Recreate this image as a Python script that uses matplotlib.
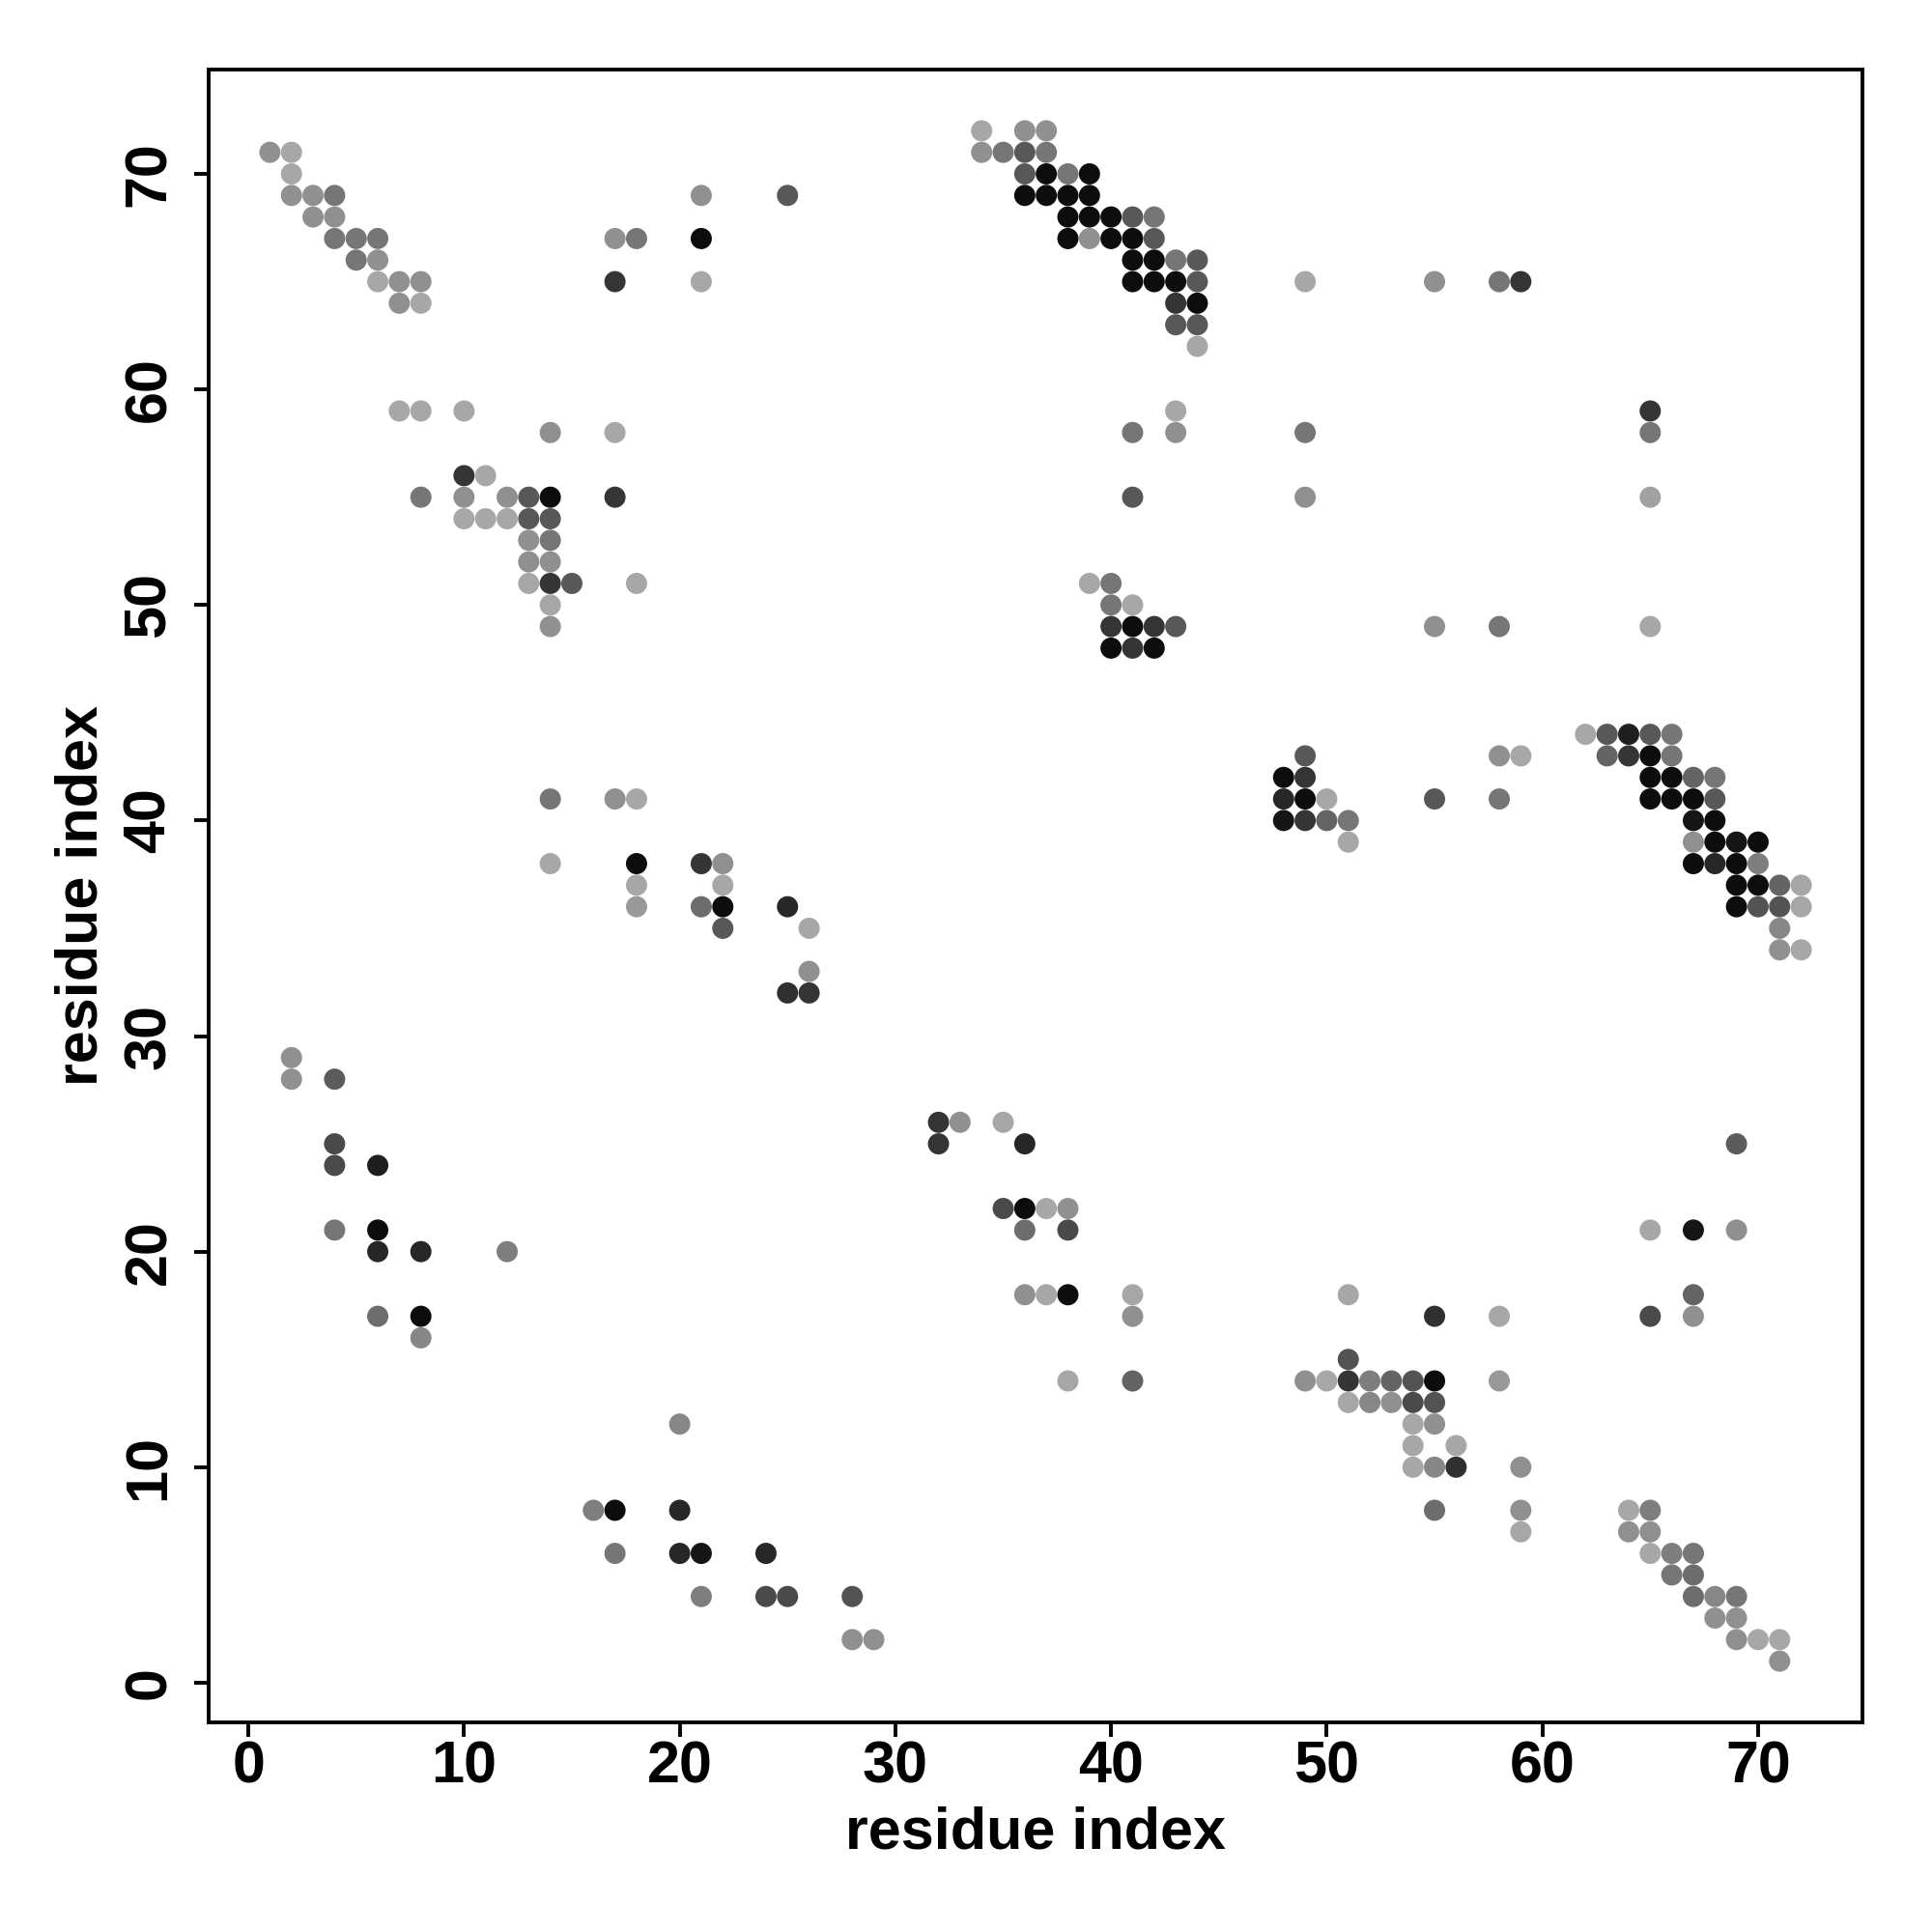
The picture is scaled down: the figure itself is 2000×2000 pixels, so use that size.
import numpy as np
import matplotlib
matplotlib.use("Agg")
import matplotlib.pyplot as plt

plt.rcParams['font.family'] = ['Liberation Sans', 'DejaVu Sans']
plt.rcParams['font.weight'] = 'bold'

# Contact map, one entry per residue row (y),
# with the partner residues (x) and a contact score (darker = higher)
row_y = [72, 71, 70, 69, 68, 67, 66, 65, 64, 63, 62, 59, 58, 56, 55, 54, 53, 52,
         51, 50, 49, 48, 44, 43, 42, 41, 40, 39, 38, 37, 36, 35, 34, 33, 32, 29,
         28, 26, 25, 24, 22, 21, 20, 18, 17, 16, 15, 14, 13, 12, 11, 10, 8, 7,
         6, 5, 4, 3, 2, 1]

row_x = [
    [34, 36, 37],
    [1, 2, 34, 35, 36, 37],
    [2, 36, 37, 38, 39],
    [2, 3, 4, 21, 25, 36, 37, 38, 39],
    [3, 4, 38, 39, 40, 41, 42],
    [4, 5, 6, 17, 18, 21, 38, 39, 40, 41, 42],
    [5, 6, 41, 42, 43, 44],
    [6, 7, 8, 17, 21, 41, 42, 43, 44, 49, 55, 58, 59],
    [7, 8, 43, 44],
    [43, 44],
    [44],
    [7, 8, 10, 43, 65],
    [14, 17, 41, 43, 49, 65],
    [10, 11],
    [8, 10, 12, 13, 14, 17, 41, 49, 65],
    [10, 11, 12, 13, 14],
    [13, 14],
    [13, 14],
    [13, 14, 15, 18, 39, 40],
    [14, 40, 41],
    [14, 40, 41, 42, 43, 55, 58, 65],
    [40, 41, 42],
    [62, 63, 64, 65, 66],
    [49, 58, 59, 63, 64, 65, 66],
    [48, 49, 65, 66, 67, 68],
    [14, 17, 18, 48, 49, 50, 55, 58, 65, 66, 67, 68],
    [48, 49, 50, 51, 67, 68],
    [51, 67, 68, 69, 70],
    [14, 18, 21, 22, 67, 68, 69, 70],
    [18, 22, 69, 70, 71, 72],
    [18, 21, 22, 25, 69, 70, 71, 72],
    [22, 26, 71],
    [71, 72],
    [26],
    [25, 26],
    [2],
    [2, 4],
    [32, 33, 35],
    [4, 32, 36, 69],
    [4, 6],
    [35, 36, 37, 38],
    [4, 6, 36, 38, 65, 67, 69],
    [6, 8, 12],
    [36, 37, 38, 41, 51, 67],
    [6, 8, 41, 55, 58, 65, 67],
    [8],
    [51],
    [38, 41, 49, 50, 51, 52, 53, 54, 55, 58],
    [51, 52, 53, 54, 55],
    [20, 54, 55],
    [54, 56],
    [54, 55, 56, 59],
    [16, 17, 20, 55, 59, 64, 65],
    [59, 64, 65],
    [17, 20, 21, 24, 65, 66, 67],
    [66, 67],
    [21, 24, 25, 28, 67, 68, 69],
    [68, 69],
    [28, 29, 69, 70, 71],
    [71],
]

row_score = [
    [.07, .2, .2],
    [.2, .07, .2, .35, .52, .35],
    [.07, .52, .95, .35, .95],
    [.2, .2, .35, .2, .52, .95, .95, .95, .95],
    [.2, .2, .95, .95, .95, .52, .35],
    [.35, .35, .35, .2, .35, .95, .95, .2, .95, .95, .52],
    [.35, .2, .95, .95, .35, .52],
    [.07, .2, .2, .72, .07, .95, .95, .95, .52, .07, .2, .35, .72],
    [.2, .07, .72, .95],
    [.52, .52],
    [.07],
    [.07, .07, .07, .07, .72],
    [.2, .07, .35, .2, .35, .35],
    [.72, .07],
    [.35, .2, .2, .52, .95, .72, .52, .2, .1],
    [.07, .07, .07, .52, .52],
    [.2, .35],
    [.2, .2],
    [.07, .72, .52, .07, .07, .35],
    [.07, .35, .07],
    [.2, .72, .95, .72, .52, .2, .35, .07],
    [.95, .72, .95],
    [.07, .52, .85, .52, .35],
    [.52, .2, .07, .45, .72, .95, .35],
    [.95, .72, .95, .95, .45, .35],
    [.35, .2, .07, .8, .95, .07, .52, .35, .95, .95, .95, .52],
    [.9, .72, .45, .35, .9, .95],
    [.07, .2, .95, .9, .95],
    [.07, .95, .72, .2, .95, .8, .95, .3],
    [.07, .07, .95, .95, .45, .07],
    [.15, .4, .95, .8, .95, .55, .55, .07],
    [.52, .07, .25],
    [.2, .07],
    [.2],
    [.75, .72],
    [.2],
    [.2, .5],
    [.72, .2, .07],
    [.6, .72, .8, .5],
    [.6, .85],
    [.6, .95, .07, .2],
    [.35, .95, .4, .6, .07, .9, .2],
    [.8, .8, .3],
    [.2, .07, .95, .07, .07, .45],
    [.4, .95, .2, .75, .07, .6, .2],
    [.25],
    [.55],
    [.07, .45, .2, .07, .72, .3, .45, .55, .95, .15],
    [.07, .25, .2, .6, .55],
    [.25, .07, .2],
    [.07, .07],
    [.07, .25, .75, .2],
    [.3, .95, .8, .4, .2, .07, .3],
    [.07, .2, .2],
    [.35, .8, .9, .8, .07, .3, .35],
    [.35, .4],
    [.3, .6, .6, .55, .4, .25, .35],
    [.2, .2],
    [.2, .2, .2, .07, .07],
    [.2],
]

xs, ys, ss = [], [], []
for y, xr, sr in zip(row_y, row_x, row_score):
    xs += xr
    ys += [y] * len(xr)
    ss += sr
xs = np.array(xs)
ys = np.array(ys)
ss = np.array(ss)

# grey shade: light grey for weak contacts, black for strong ones
shade = np.clip(0.70 - 0.68 * ss, 0, 1)
colors = plt.cm.gray(shade)

fig = plt.figure(figsize=(20, 20), dpi=100)
ax = fig.add_axes([0.108, 0.1085, 0.856, 0.8555])
ax.scatter(xs, ys, s=250, c=colors, edgecolors='none')

ax.set_xlim(-1.84, 74.84)
ax.set_ylim(-1.84, 74.84)
ax.set_xticks(np.arange(0, 71, 10))
ax.set_yticks(np.arange(0, 71, 10))
for sp in ax.spines.values():
    sp.set_linewidth(2.8)
ax.tick_params(length=11, width=2.8, labelsize=44)
ax.tick_params(axis='x', pad=2)
ax.tick_params(axis='y', pad=12)
for lab in ax.get_yticklabels():
    lab.set_rotation(90)
    lab.set_va('center')
ax.set_xlabel("residue index", fontsize=44, fontweight='bold', labelpad=8)
ax.set_ylabel("residue index", fontsize=44, fontweight='bold', labelpad=10)

fig.savefig("out.png", dpi=100)
